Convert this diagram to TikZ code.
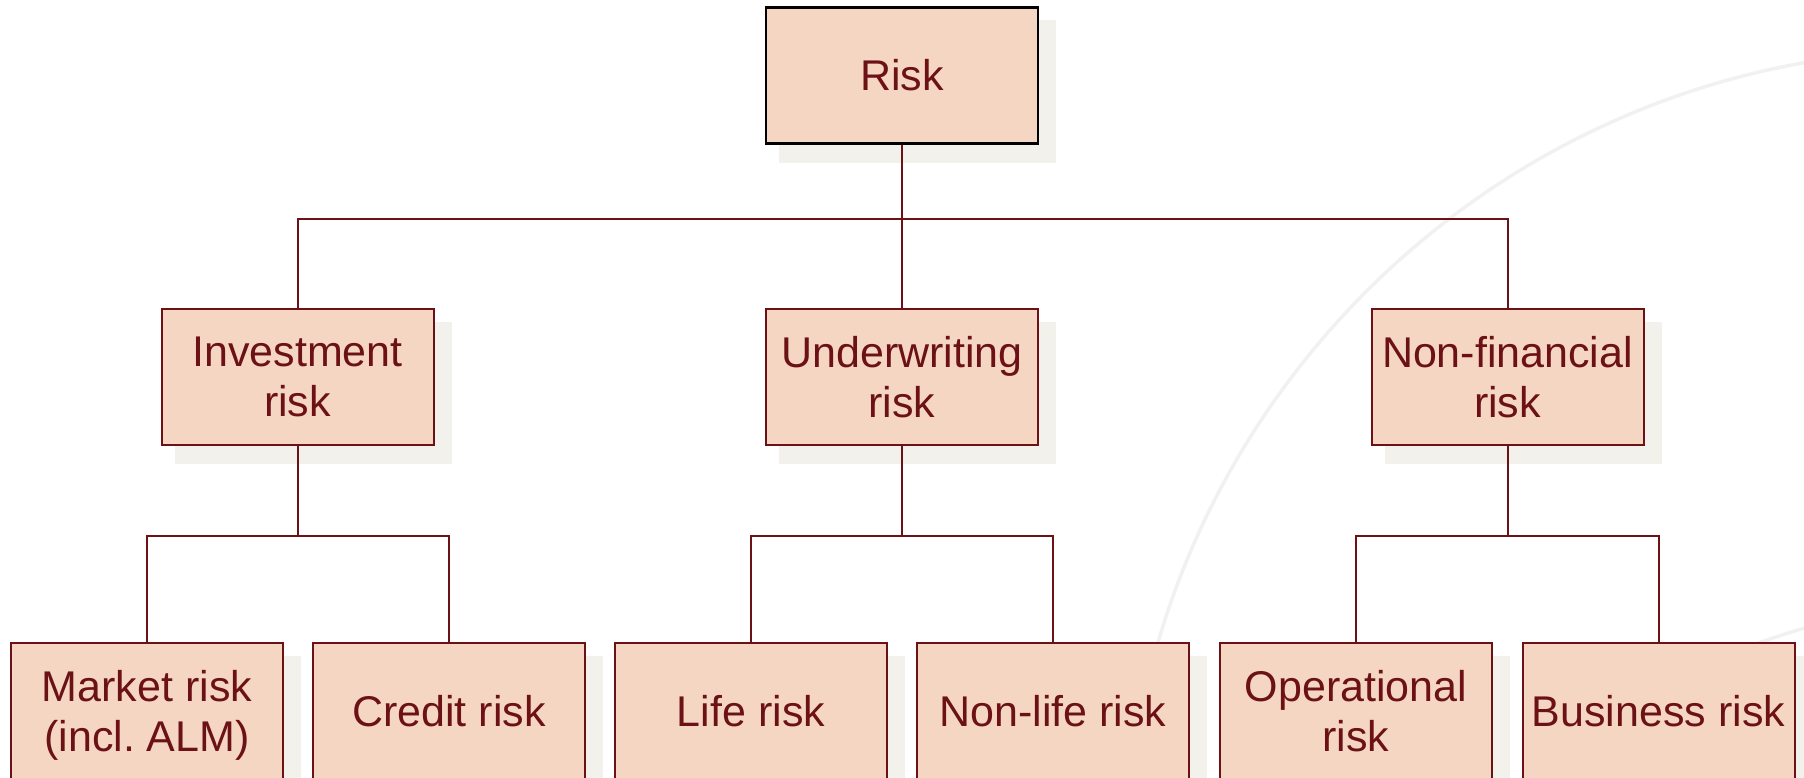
\documentclass[tikz,border=0pt]{standalone}
\usepackage{fontspec}
\setmainfont{Liberation Sans}
\usetikzlibrary{backgrounds}
\definecolor{boxfill}{RGB}{244,214,195}
\definecolor{darkred}{RGB}{108,18,22}
\definecolor{shadowc}{RGB}{242,241,235}
\definecolor{arcc}{RGB}{241,241,241}
\frenchspacing
\tikzset{
  riskbox/.style={draw=darkred, line width=2pt, fill=boxfill, text=darkred,
    minimum width=272pt, minimum height=136pt, inner sep=0pt, align=center,
    font=\fontsize{43}{50}\selectfont},
  topbox/.style={riskbox, draw=black, line width=2.6pt},
  conn/.style={draw=darkred, line width=2pt},
  shadowbox/.style={fill=shadowc, draw=none}
}
\newcommand{\boxshadow}[1]{%
  \fill[shadowbox] ([xshift=14pt,yshift=-18pt]#1.south west) rectangle ([xshift=17pt,yshift=-14pt]#1.north east);}
\begin{document}
\begin{tikzpicture}[x=1pt,y=-1pt]
\clip (0,0) rectangle (1804,778);
% boxes
\node[topbox] (risk) at (902,75.5) {Risk};
\node[riskbox] (inv) at (297.5,377) {Investment\\risk};
\node[riskbox] (under) at (902,377) {Underwriting\\risk};
\node[riskbox] (nonfin) at (1507.5,377) {Non-financial\\risk};
\node[riskbox] (market) at (147,711) {Market risk\\\raisebox{0pt}[\height][0pt]{(incl.\ ALM)}};
\node[riskbox] (credit) at (449,711) {Credit risk};
\node[riskbox] (life) at (751,711) {Life risk};
\node[riskbox] (nonlife) at (1053,711) {Non-life risk};
\node[riskbox] (oper) at (1356,711) {Operational\\risk};
\node[riskbox] (business) at (1658.5,711) {Business risk};
\begin{scope}[on background layer]
  \draw[arcc, line width=3.5pt] (1949,874) circle[radius=824pt];
  \draw[arcc, line width=3.5pt] (1998,1301) circle[radius=700pt];
  \foreach \n in {risk,inv,under,nonfin,market,credit,life,nonlife,oper,business}{\boxshadow{\n}}
\end{scope}
% connectors
\coordinate (b1) at (902,218.6);
\coordinate (b2) at (297.5,536);
\coordinate (b3) at (902,536);
\coordinate (b4) at (1507.5,536);
\draw[conn] (risk.south) -- (b1);
\draw[conn] (b1) -- (under.north);
\draw[conn] (inv.north) |- (b1) -| (nonfin.north);
\draw[conn] (inv.south) -- (b2);
\draw[conn] (market.north) |- (b2) -| (credit.north);
\draw[conn] (under.south) -- (b3);
\draw[conn] (life.north) |- (b3) -| (nonlife.north);
\draw[conn] (nonfin.south) -- (b4);
\draw[conn] (oper.north) |- (b4) -| (business.north);
\end{tikzpicture}
\end{document}
